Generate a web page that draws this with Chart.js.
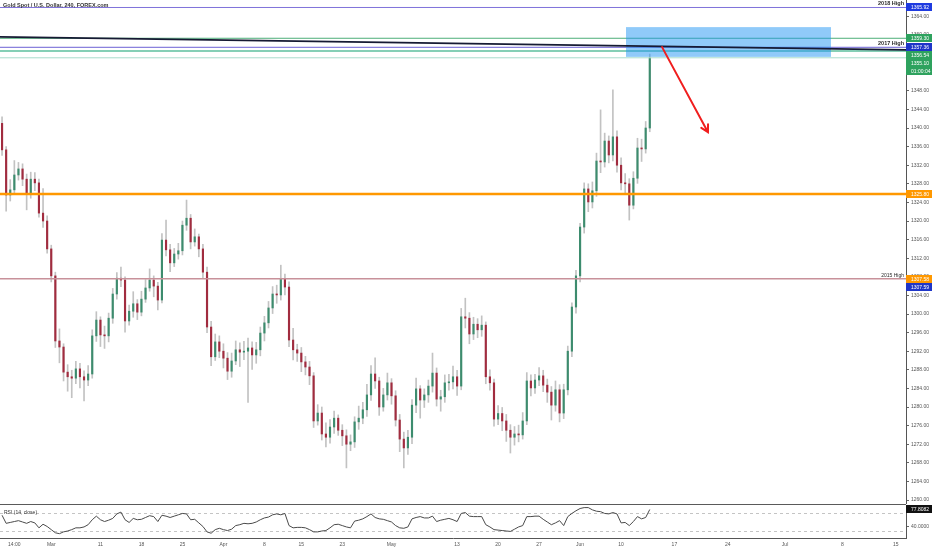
<!DOCTYPE html>
<html>
<head>
<meta charset="utf-8">
<script src="https://cdn.jsdelivr.net/npm/chart.js@4.4.0/dist/chart.umd.min.js"></script>
<style>
  html, body { margin: 0; padding: 0; background: #fff; }
  .pane { position: absolute; left: 0; width: 932px; }
</style>
</head>
<body>
<div class="pane" style="top:0;height:504px"><canvas id="main"></canvas></div>
<div class="pane" style="top:504px;height:46px"><canvas id="rsi"></canvas></div>
<script>
// XAUUSD 240 - candles resampled to 12h slots
var slotCount = 221;
var tickSlots = [3, 12, 24, 34, 44, 54, 64, 73, 83, 95, 111, 121, 131, 141, 151, 164, 177, 191, 205, 218];
var tickText = ['14:00', 'Mar', '11', '18', '25', 'Apr', '8', '15', '23', 'May', '13', '20', '27', 'Jun', '10', '17', '24', 'Jul', '8', '15'];

var openP = [
  1341.0,1335.3,1325.6,1326.7,1329.9,1331.2,1329.0,1325.8,1329.0,1328.2,
  1321.7,1320.0,1314.0,1308.2,1294.2,1292.9,1287.5,1286.5,1286.2,1288.2,
  1286.5,1285.8,1287.1,1295.3,1298.7,1295.5,1295.3,1299.1,1304.3,1307.7,
  1307.3,1298.5,1300.6,1302.2,1300.4,1303.2,1305.6,1307.3,1306.0,1303.0,
  1315.9,1313.8,1311.0,1312.9,1313.6,1319.1,1320.6,1315.5,1316.6,1314.0,
  1309.0,1297.2,1290.8,1294.0,1292.0,1290.5,1287.7,1289.9,1292.3,1291.8,
  1292.0,1292.7,1291.2,1292.3,1295.9,1298.1,1301.3,1304.3,1304.1,1307.5,
  1305.8,1294.4,1292.3,1291.6,1289.7,1288.6,1286.7,1277.0,1278.7,1274.2,
  1273.5,1275.7,1277.6,1275.0,1273.8,1272.0,1272.5,1276.8,1277.6,1279.4,
  1282.6,1287.1,1285.6,1280.0,1282.6,1285.2,1282.4,1277.2,1273.1,1271.2,
  1273.5,1280.4,1283.9,1281.5,1282.6,1284.5,1287.3,1281.7,1282.2,1285.2,
  1285.4,1286.5,1284.5,1299.4,1299.1,1295.7,1297.8,1296.6,1297.6,1286.5,
  1285.2,1277.4,1278.6,1277.0,1275.0,1273.5,1274.2,1274.0,1277.0,1285.6,
  1284.1,1285.8,1286.7,1284.7,1283.2,1280.4,1283.7,1278.7,1283.7,1292.0,
  1301.5,1308.2,1318.7,1326.9,1324.1,1326.5,1332.9,1332.7,1337.2,1334.2,
  1338.1,1332.0,1328.2,1328.0,1323.4,1329.2,1335.7,1335.5,1340.0
];
var highP = [
  1342.4,1336.0,1328.9,1333.0,1332.6,1332.3,1330.1,1330.5,1330.4,1329.0,
  1327.0,1321.1,1314.8,1309.0,1296.8,1293.6,1289.1,1287.9,1289.8,1289.4,
  1287.8,1288.9,1296.6,1300.5,1299.4,1297.4,1300.2,1305.5,1308.9,1310.1,
  1308.0,1301.9,1304.8,1303.1,1304.9,1307.4,1309.7,1308.2,1306.8,1317.3,
  1320.2,1315.0,1314.1,1315.2,1320.0,1324.5,1321.4,1318.3,1317.2,1315.0,
  1310.1,1298.4,1295.7,1295.3,1293.6,1291.7,1291.6,1294.2,1293.8,1294.1,
  1294.8,1294.0,1293.9,1297.2,1299.5,1302.7,1305.9,1306.2,1310.5,1308.6,
  1306.9,1296.9,1293.5,1292.8,1290.9,1289.8,1287.4,1280.5,1280.0,1276.6,
  1277.3,1279.1,1278.3,1276.2,1275.1,1274.0,1277.9,1280.2,1281.0,1284.9,
  1288.9,1290.6,1286.4,1284.0,1287.3,1286.1,1283.5,1278.4,1274.6,1275.0,
  1281.6,1286.2,1284.6,1283.9,1285.8,1291.6,1288.4,1283.6,1286.9,1287.0,
  1288.8,1287.9,1301.2,1303.4,1300.3,1299.3,1299.0,1299.6,1298.3,1288.0,
  1286.0,1280.3,1279.9,1278.4,1276.2,1275.8,1276.1,1278.8,1287.4,1286.9,
  1287.0,1288.5,1287.9,1286.0,1284.4,1285.6,1284.8,1284.9,1293.1,1302.4,
  1309.4,1319.5,1328.2,1328.0,1328.4,1334.6,1343.9,1338.9,1338.3,1348.2,
  1339.4,1333.6,1330.2,1329.1,1330.6,1337.8,1337.6,1341.4,1355.9
];
var lowP = [
  1334.1,1322.1,1324.3,1326.0,1328.8,1327.6,1322.4,1324.9,1326.5,1320.8,
  1318.6,1313.1,1306.9,1292.8,1289.5,1285.6,1283.4,1282.0,1285.0,1284.1,
  1281.3,1284.6,1286.2,1294.1,1293.0,1292.6,1294.0,1298.0,1303.2,1305.9,
  1296.1,1297.6,1299.3,1298.8,1299.6,1302.5,1304.9,1303.7,1300.9,1302.4,
  1312.5,1309.1,1310.2,1311.8,1312.7,1318.0,1314.0,1314.6,1312.3,1307.6,
  1296.0,1288.9,1290.0,1290.6,1288.4,1285.9,1286.4,1289.1,1288.7,1290.2,
  1281.0,1288.1,1289.4,1291.0,1294.2,1297.0,1300.1,1302.3,1303.0,1304.1,
  1293.0,1290.1,1289.8,1287.6,1286.9,1284.8,1275.6,1276.1,1272.9,1271.4,
  1272.2,1274.3,1273.9,1271.7,1266.9,1270.6,1271.3,1275.2,1276.4,1278.0,
  1281.4,1284.0,1278.2,1279.1,1281.5,1280.6,1275.9,1270.4,1266.9,1269.8,
  1272.1,1278.8,1277.6,1279.9,1281.0,1283.2,1280.2,1279.1,1281.0,1283.6,
  1283.9,1282.5,1283.7,1297.0,1293.6,1294.5,1294.9,1295.2,1285.0,1283.6,
  1275.9,1276.2,1274.9,1272.6,1270.1,1271.8,1272.5,1273.1,1276.2,1282.4,
  1282.9,1284.6,1283.3,1281.0,1277.2,1279.1,1276.8,1277.5,1282.6,1290.8,
  1300.2,1306.9,1317.4,1322.0,1322.8,1325.3,1330.4,1331.6,1332.5,1332.9,
  1330.5,1326.7,1325.9,1320.2,1322.6,1328.1,1332.8,1334.6,1339.2
];
var closeP = [
  1335.3,1325.6,1326.7,1329.9,1331.2,1329.0,1325.8,1329.0,1328.2,1321.7,
  1320.0,1314.0,1308.2,1294.2,1292.9,1287.5,1286.5,1286.2,1288.2,1286.5,
  1285.8,1287.1,1295.3,1298.7,1295.5,1295.3,1299.1,1304.3,1307.7,1307.3,
  1298.5,1300.6,1302.2,1300.4,1303.2,1305.6,1307.3,1306.0,1303.0,1315.9,
  1313.8,1311.0,1312.9,1313.6,1319.1,1320.6,1315.5,1316.6,1314.0,1309.0,
  1297.2,1290.8,1294.0,1292.0,1290.5,1287.7,1289.9,1292.3,1291.8,1292.0,
  1292.7,1291.2,1292.3,1295.9,1298.1,1301.3,1304.3,1304.1,1307.5,1305.8,
  1294.4,1292.3,1291.6,1289.7,1288.6,1286.7,1277.0,1278.7,1274.2,1273.5,
  1275.7,1277.6,1275.0,1273.8,1272.0,1272.5,1276.8,1277.6,1279.4,1282.6,
  1287.1,1285.6,1280.0,1282.6,1285.2,1282.4,1277.2,1273.1,1271.2,1273.5,
  1280.4,1283.9,1281.5,1282.6,1284.5,1287.3,1281.7,1282.2,1285.2,1285.4,
  1286.5,1284.5,1299.4,1299.1,1295.7,1297.8,1296.6,1297.6,1286.5,1285.2,
  1277.4,1278.6,1277.0,1275.0,1273.5,1274.2,1274.0,1277.0,1285.6,1284.1,
  1285.8,1286.7,1284.7,1283.2,1280.4,1283.7,1278.7,1283.7,1292.0,1301.5,
  1308.2,1318.7,1326.9,1324.1,1326.5,1332.9,1332.7,1337.2,1334.2,1338.1,
  1332.0,1328.2,1328.0,1323.4,1329.2,1335.7,1335.5,1340.0,1355.1
];
var rsiVals = [
  65,47,49,51,53,50,47,51,48,37,
  45,40,33,26,24,28,30,33,37,37,
  39,44,55,63,55,51,54,58,68,72,
  55,49,58,55,56,60,64,62,51,65,
  63,60,63,66,69,68,55,56,48,40,
  28,25,33,36,33,31,34,42,44,47,
  46,47,50,55,59,61,66,68,66,69,
  42,37,38,38,37,33,28,28,30,31,
  37,44,45,42,39,37,52,54,57,62,
  68,60,57,56,53,50,42,37,36,39,
  57,60,62,59,59,63,51,54,56,58,
  55,51,69,71,63,62,62,62,44,39,
  33,32,31,30,29,34,39,42,62,62,
  63,63,56,50,44,48,53,42,62,69,
  75,80,82,82,77,74,73,69,68,71,
  68,48,49,42,51,62,57,60,77.8082
];
var rsiTicks = [40];
var rsiBands = [70, 30];

// drawings on the price pane
var levelPrices = [1365.92, 1359.30, 1357.36, 1356.54, 1355.10, 1325.80, 1307.58];
var levelNames = ['2018 High', '', '2017 High', '', '', '', '2015 High'];
var extraTagPrices = [1307.59];
var trendSlots = [0, 220];
var trendPrices = [1359.6, 1356.8];
var zoneSlots = [152.2, 202.2];
var zonePrices = [1361.7, 1355.3];
var arrowSlots = [161, 172.2];
var arrowPrices = [1357.4, 1339.1];
var countdownText = '01:00:04';

var xLabels = [];
for (var i = 0; i < slotCount; i++) xLabels.push('');
tickSlots.forEach(function (s, k) { xLabels[s] = tickText[k]; });

var FONT = '"Liberation Sans", Arial, sans-serif';
var UP = '#3d8c6e', DOWN = '#a12c3f', WICK = '#c2c2c2';
var levelStyle = [
  { line: '#7f72da', w: 1, tag: '#1f3be0', bold: true },
  { line: '#4cae78', w: 1, tag: '#2ea25e' },
  { line: '#6c60d4', w: 1, tag: '#1f36c8', bold: true },
  { line: '#5dbf9e', w: 1.5, tag: '#2ea25e' },
  { line: '#a8dccd', w: 1, tag: '#2ea25e' },
  { line: '#ff9800', w: 2.5, tag: '#ff9800' },
  { line: '#c8919a', w: 1.5, tag: '#ff9800' }
];

var bodyColors = openP.map(function (o, k) { return closeP[k] >= o ? UP : DOWN; });

// drop the label-overflow padding so the plot fills the whole pane
function tightAxis(width) {
  return function (s) {
    if (width) s.width = width;
    s.paddingTop = 0; s.paddingBottom = 0;
    s.paddingLeft = 0; s.paddingRight = 0;
  };
}

function drawTag(ctx, x0, x1, yc, bg, text) {
  var top = Math.round(yc - 4);
  ctx.fillStyle = bg;
  ctx.fillRect(x0, top, x1 - x0, 8);
  ctx.fillStyle = '#fff';
  ctx.font = '5px ' + FONT;
  ctx.textAlign = 'left';
  ctx.textBaseline = 'middle';
  ctx.fillText(text, x0 + 5, top + 4.5);
}

var priceOverlay = {
  id: 'priceOverlay',
  afterDatasetsDraw: function (chart) {
    var ctx = chart.ctx, a = chart.chartArea, x = chart.scales.x, y = chart.scales.y;
    ctx.save();
    ctx.beginPath();
    ctx.rect(a.left, a.top, a.right - a.left, a.bottom - a.top);
    ctx.clip();

    levelPrices.forEach(function (p, k) {
      var py = y.getPixelForValue(p);
      ctx.strokeStyle = levelStyle[k].line;
      ctx.lineWidth = levelStyle[k].w;
      ctx.beginPath();
      ctx.moveTo(a.left, py);
      ctx.lineTo(a.right, py);
      ctx.stroke();
    });

    // target zone
    var zx0 = x.getPixelForValue(zoneSlots[0]), zx1 = x.getPixelForValue(zoneSlots[1]);
    var zy0 = y.getPixelForValue(zonePrices[0]), zy1 = y.getPixelForValue(zonePrices[1]);
    ctx.fillStyle = 'rgba(33,150,243,0.5)';
    ctx.fillRect(zx0, zy0, zx1 - zx0, zy1 - zy0);

    // falling trendline
    ctx.strokeStyle = '#161a33';
    ctx.lineWidth = 1.8;
    ctx.beginPath();
    ctx.moveTo(x.getPixelForValue(trendSlots[0]) - 3, y.getPixelForValue(trendPrices[0]));
    ctx.lineTo(x.getPixelForValue(trendSlots[1]) + 3, y.getPixelForValue(trendPrices[1]));
    ctx.stroke();

    // arrow
    var ax0 = x.getPixelForValue(arrowSlots[0]), ay0 = y.getPixelForValue(arrowPrices[0]);
    var ax1 = x.getPixelForValue(arrowSlots[1]), ay1 = y.getPixelForValue(arrowPrices[1]);
    var ang = Math.atan2(ay1 - ay0, ax1 - ax0);
    ctx.strokeStyle = '#f01e1e';
    ctx.lineWidth = 2;
    ctx.lineCap = 'round';
    ctx.beginPath();
    ctx.moveTo(ax0, ay0);
    ctx.lineTo(ax1, ay1);
    ctx.moveTo(ax1 - 8 * Math.cos(ang - 0.5), ay1 - 8 * Math.sin(ang - 0.5));
    ctx.lineTo(ax1, ay1);
    ctx.lineTo(ax1 - 8 * Math.cos(ang + 0.5), ay1 - 8 * Math.sin(ang + 0.5));
    ctx.stroke();
    ctx.restore();

    // level captions
    ctx.save();
    ctx.textAlign = 'right';
    ctx.textBaseline = 'alphabetic';
    levelNames.forEach(function (name, k) {
      if (!name) return;
      var py = y.getPixelForValue(levelPrices[k]);
      ctx.font = (levelStyle[k].bold ? 'bold 5.5px ' : '5px ') + FONT;
      ctx.fillStyle = '#2a2a2a';
      ctx.fillText(name, a.right - 2, py - 2);
    });
    ctx.font = 'bold 5.5px ' + FONT;
    ctx.textAlign = 'left';
    ctx.textBaseline = 'middle';
    ctx.fillStyle = '#333';
    ctx.fillText('Gold Spot / U.S. Dollar, 240, FOREX.com', 3, 5);
    ctx.restore();
  },
  afterDraw: function (chart) {
    var ctx = chart.ctx, a = chart.chartArea, y = chart.scales.y;
    var tags = levelPrices.map(function (p, k) {
      return { y: y.getPixelForValue(p), text: p.toFixed(2), bg: levelStyle[k].tag, order: k };
    });
    extraTagPrices.forEach(function (p) {
      tags.push({ y: y.getPixelForValue(p), text: p.toFixed(2), bg: '#1f36c8', order: 10 });
    });
    var last = closeP[closeP.length - 1];
    tags.push({ y: y.getPixelForValue(last), text: countdownText, bg: '#2ea25e', order: 11 });
    tags.sort(function (p, q) { return Math.round(p.y) - Math.round(q.y) || p.order - q.order; });
    var prev = -100;
    ctx.save();
    tags.forEach(function (t) {
      var ty = Math.max(t.y, prev + 8);
      prev = ty;
      drawTag(ctx, a.right, chart.width, ty, t.bg, t.text);
    });
    ctx.restore();
  }
};

var rsiOverlay = {
  id: 'rsiOverlay',
  beforeDatasetsDraw: function (chart) {
    var ctx = chart.ctx, a = chart.chartArea, y = chart.scales.y;
    ctx.save();
    ctx.strokeStyle = '#c4c4c4';
    ctx.lineWidth = 1;
    ctx.setLineDash([3, 3]);
    rsiBands.forEach(function (v) {
      var py = Math.round(y.getPixelForValue(v)) + 0.5;
      ctx.beginPath();
      ctx.moveTo(a.left, py);
      ctx.lineTo(a.right, py);
      ctx.stroke();
    });
    ctx.setLineDash([]);
    ctx.strokeStyle = '#5a5a5a';
    ctx.beginPath();
    ctx.moveTo(a.left, 0.5);
    ctx.lineTo(a.right, 0.5);
    ctx.stroke();
    ctx.restore();
  },
  afterDraw: function (chart) {
    var ctx = chart.ctx, a = chart.chartArea, y = chart.scales.y;
    ctx.save();
    ctx.font = '5px ' + FONT;
    ctx.fillStyle = '#333';
    ctx.textAlign = 'left';
    ctx.textBaseline = 'middle';
    ctx.fillText('RSI (14, close)', 4, 8.5);
    var v = rsiVals[rsiVals.length - 1];
    drawTag(ctx, a.right, chart.width, y.getPixelForValue(v), '#111', v.toFixed(4));
    ctx.restore();
  }
};

new Chart(document.getElementById('main'), {
  type: 'bar',
  data: {
    labels: xLabels,
    datasets: [
      {
        label: 'body',
        data: openP.map(function (o, k) { return [o, closeP[k]]; }),
        backgroundColor: bodyColors,
        barThickness: 1.5,
        minBarLength: 1,
        grouped: false
      },
      {
        label: 'wick',
        data: lowP.map(function (l, k) { return [l, highP[k]]; }),
        backgroundColor: WICK,
        barThickness: 1,
        grouped: false
      }
    ]
  },
  options: {
    responsive: true,
    maintainAspectRatio: false,
    animation: false,
    layout: { padding: 0 },
    plugins: { legend: { display: false }, tooltip: { enabled: false } },
    scales: {
      x: { display: false, offset: true },
      y: {
        position: 'right',
        min: 1259.14,
        max: 1367.53,
        afterFit: tightAxis(26),
        grid: { drawOnChartArea: false, drawTicks: true, tickLength: 3, color: '#666' },
        border: { display: true, color: '#555', width: 1 },
        ticks: {
          stepSize: 4,
          maxTicksLimit: 40,
          includeBounds: false,
          padding: 2,
          color: '#555',
          font: { family: FONT, size: 5 },
          callback: function (v) { return v.toFixed(2); }
        }
      }
    }
  },
  plugins: [priceOverlay]
});

new Chart(document.getElementById('rsi'), {
  type: 'line',
  data: {
    labels: xLabels,
    datasets: [{
      label: 'RSI',
      data: rsiVals,
      borderColor: '#4a4a4a',
      borderWidth: 1,
      pointRadius: 0,
      tension: 0
    }]
  },
  options: {
    responsive: true,
    maintainAspectRatio: false,
    animation: false,
    layout: { padding: { top: 1 } },
    plugins: { legend: { display: false }, tooltip: { enabled: false } },
    scales: {
      x: {
        offset: true,
        afterFit: function (s) { s.height = 12; s.paddingLeft = 0; s.paddingRight = 0; },
        afterBuildTicks: function (s) {
          s.ticks = s.ticks.filter(function (t) { return xLabels[t.value] !== ''; });
        },
        grid: { display: false, drawTicks: false },
        border: { display: true, color: '#555', width: 1 },
        ticks: {
          autoSkip: false,
          maxRotation: 0,
          padding: 4,
          color: '#555',
          font: { family: FONT, size: 5 }
        }
      },
      y: {
        position: 'right',
        min: 14.4,
        max: 87.8,
        afterFit: tightAxis(26),
        afterBuildTicks: function (s) {
          s.ticks = rsiTicks.map(function (v) { return { value: v }; });
        },
        grid: { drawOnChartArea: false, drawTicks: true, tickLength: 3, color: '#666' },
        border: { display: true, color: '#555', width: 1 },
        ticks: {
          padding: 2,
          color: '#555',
          font: { family: FONT, size: 5 },
          callback: function (v) { return v.toFixed(4); }
        }
      }
    }
  },
  plugins: [rsiOverlay]
});
</script>
</body>
</html>
